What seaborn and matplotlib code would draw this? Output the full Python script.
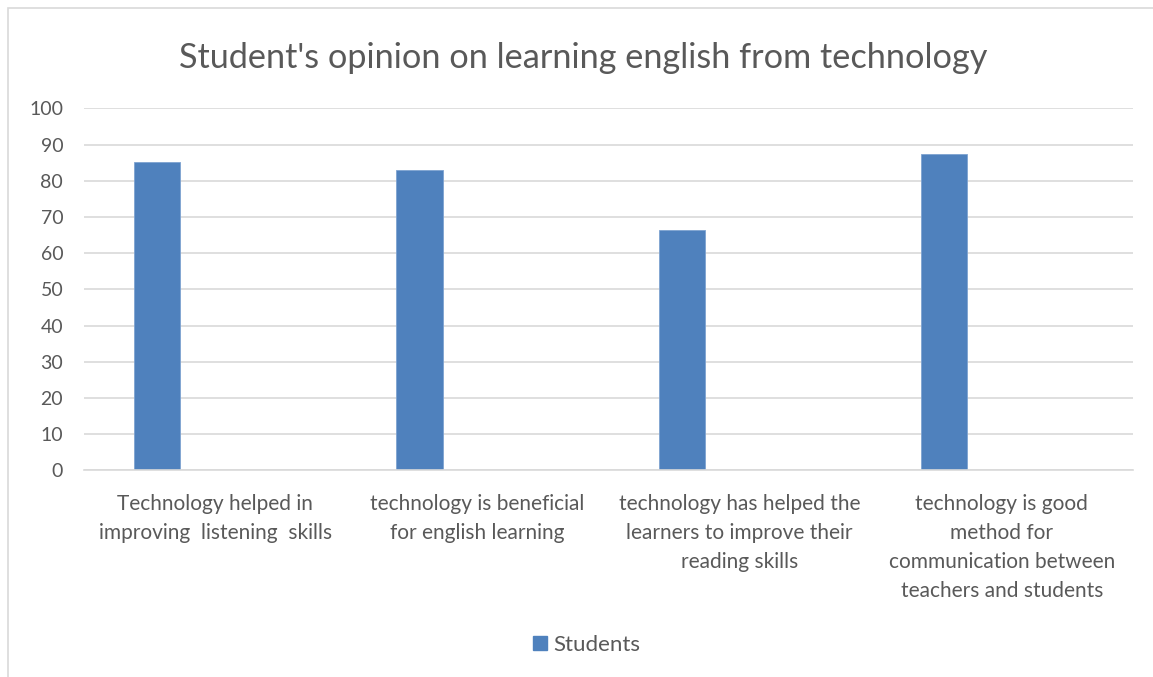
import pandas as pd
import matplotlib.pyplot as plt
import matplotlib.patches as mpatches
import seaborn as sns

# Datos
categorias = [
    "Technology helped in\nimproving  listening  skills",
    "technology is beneficial\nfor english learning",
    "technology has helped the\nlearners to improve their\nreading skills",
    "technology is good\nmethod for\ncommunication between\nteachers and students",
]
valores = [85.1, 82.9, 66.4, 87.4]
serie = "Students"

df = pd.DataFrame({"categoria": categorias, "valor": valores, "serie": serie})

sns.set_theme(style="white")
plt.rcParams["font.family"] = ["Lato", "DejaVu Sans"]
gris = "#595959"

fig = plt.figure(figsize=(11.53, 6.77), dpi=100)
ax = fig.add_axes([0.0729, 0.3053, 0.9098, 0.5347])

sns.barplot(data=df, x="categoria", y="valor", hue="serie", palette=["#4f81bd"],
            saturation=1, width=0.176, edgecolor="#7ea3d1", linewidth=0.6,
            legend=False, ax=ax)

# Desplazar barras a la izquierda como en Excel (serie en primera posicion)
for p in ax.patches:
    p.set_x(p.get_x() - 0.221)

ax.set_xlim(-0.5, len(categorias) - 0.5)
ax.set_ylim(0, 100)
ax.set_yticks(range(0, 101, 10))
ax.yaxis.grid(True, color="#d9d9d9", linewidth=1.2)
ax.set_axisbelow(True)
for s in ["top", "right", "left"]:
    ax.spines[s].set_visible(False)
ax.spines["bottom"].set_color("#d9d9d9")
ax.spines["bottom"].set_linewidth(1.2)
ax.tick_params(axis="both", length=0, colors=gris)
ax.tick_params(axis="x", pad=17, labelsize=15)
ax.tick_params(axis="y", pad=15, labelsize=14)
for lbl in ax.get_xticklabels():
    lbl.set_linespacing(1.56)
ax.set_xlabel("")
ax.set_ylabel("")

fig.text(0.506, 0.915, "Student's opinion on learning english from technology",
         ha="center", va="center", fontsize=24.7, color=gris)

# Leyenda
handle = mpatches.Patch(color="#4f81bd", label=serie)
fig.legend(handles=[handle], loc="center", bbox_to_anchor=(0.509, 0.047), frameon=False,
           fontsize=16, labelcolor=gris, handlelength=0.6, handleheight=0.6,
           handletextpad=0.3)

# Borde del area del grafico
fig.patches.append(mpatches.Rectangle((8 / 1153, -0.05), 1.2, 1 - 8 / 677 + 0.05,
                                      transform=fig.transFigure, fill=False,
                                      edgecolor="#d9d9d9", linewidth=1.2))

plt.savefig("out.png", dpi=100)
